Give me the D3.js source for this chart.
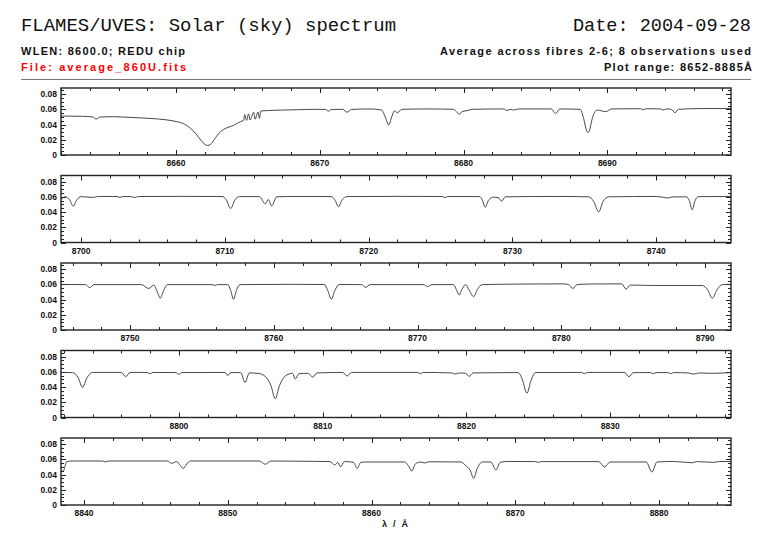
<!DOCTYPE html>
<html><head><meta charset="utf-8">
<script src="https://cdn.jsdelivr.net/npm/d3@7"></script>
<style>body{margin:0;background:#fff}</style></head><body>
<svg id="c" width="782" height="542"></svg>
<script>
// ---- data ----
const titleText = "FLAMES/UVES: Solar (sky) spectrum";
const dateText = "Date: 2004-09-28";
const infoLeft = ["WLEN: 8600.0; REDU chip", "File: average_860U.fits"];
const infoRight = ["Average across fibres 2-6; 8 observations used", "Plot range: 8652-8885Å"];
const xLabel = "λ / Å";
const panelRanges = [[8652.0, 8698.6], [8698.6, 8745.2], [8745.2, 8791.8], [8791.8, 8838.4], [8838.4, 8885.0]];
const yTicks = [0, 0.02, 0.04, 0.06, 0.08];
const yMax = 0.088;

const panel1 = [[8652.0,0.0512],[8653.5,0.0508],[8654.2,0.0500],[8654.45,0.0472],[8654.7,0.0498],[8655.6,0.0503],[8657.0,0.0492],[8658.4,0.0478],[8659.3,0.0462],[8660.0,0.0440],[8660.6,0.0405],[8661.0,0.0350],[8661.4,0.0275],[8661.75,0.0190],[8662.0,0.0140],[8662.2,0.0125],[8662.4,0.0140],[8662.65,0.0200],[8663.0,0.0290],[8663.4,0.0345],[8664.0,0.0390],[8664.5,0.0440],[8664.7,0.0455],[8664.78,0.0530],[8664.9,0.0455],[8665.05,0.0540],[8665.15,0.0460],[8665.4,0.0560],[8665.5,0.0470],[8665.7,0.0565],[8665.8,0.0480],[8665.9,0.0578],[8667.0,0.0588],[8668.5,0.0595],[8669.7,0.0600],[8670.4,0.0598],[8670.6,0.0575],[8670.8,0.0598],[8671.6,0.0600],[8671.9,0.0562],[8672.2,0.0598],[8673.5,0.0605],[8674.3,0.0590],[8674.55,0.0500],[8674.8,0.0395],[8675.0,0.0500],[8675.2,0.0580],[8675.4,0.0555],[8675.7,0.0600],[8677.5,0.0605],[8679.3,0.0600],[8679.5,0.0570],[8679.7,0.0535],[8679.9,0.0570],[8680.3,0.0585],[8680.6,0.0600],[8682.8,0.0605],[8683.0,0.0585],[8683.3,0.0600],[8683.5,0.0590],[8683.8,0.0605],[8686.1,0.0605],[8686.4,0.0545],[8686.7,0.0605],[8688.1,0.0600],[8688.35,0.0480],[8688.55,0.0320],[8688.65,0.0293],[8688.75,0.0320],[8688.95,0.0480],[8689.3,0.0590],[8689.9,0.0570],[8690.3,0.0605],[8692.3,0.0608],[8692.5,0.0595],[8692.7,0.0608],[8693.7,0.0605],[8693.9,0.0590],[8694.1,0.0605],[8694.45,0.0600],[8694.7,0.0556],[8694.95,0.0600],[8696.5,0.0610],[8698.6,0.0610]];
const panel2 = [[8698.6,0.0570],[8698.9,0.0600],[8699.2,0.0560],[8699.45,0.0477],[8699.7,0.0560],[8700.0,0.0602],[8700.8,0.0592],[8701.2,0.0605],[8702.5,0.0605],[8702.7,0.0592],[8702.9,0.0604],[8703.5,0.0603],[8703.7,0.0590],[8704.0,0.0604],[8707.0,0.0606],[8709.8,0.0604],[8710.1,0.0560],[8710.4,0.0447],[8710.7,0.0560],[8711.0,0.0603],[8712.4,0.0603],[8712.8,0.0508],[8713.02,0.0565],[8713.25,0.0480],[8713.6,0.0600],[8715.0,0.0605],[8717.4,0.0603],[8717.65,0.0560],[8717.9,0.0470],[8718.15,0.0560],[8718.5,0.0603],[8722.0,0.0606],[8725.1,0.0604],[8725.3,0.0590],[8725.5,0.0604],[8727.7,0.0603],[8727.9,0.0560],[8728.1,0.0464],[8728.35,0.0560],[8728.7,0.0595],[8729.0,0.0590],[8729.25,0.0543],[8729.5,0.0600],[8733.0,0.0605],[8735.3,0.0600],[8735.65,0.0540],[8736.0,0.0403],[8736.3,0.0540],[8736.7,0.0600],[8740.0,0.0605],[8740.5,0.0592],[8740.8,0.0585],[8741.1,0.0598],[8742.1,0.0600],[8742.3,0.0550],[8742.5,0.0430],[8742.7,0.0550],[8742.95,0.0602],[8745.2,0.0605]];
const panel3 = [[8745.2,0.0598],[8746.9,0.0596],[8747.2,0.0557],[8747.5,0.0596],[8750.8,0.0596],[8751.3,0.0545],[8751.65,0.0590],[8751.9,0.0500],[8752.1,0.0417],[8752.3,0.0500],[8752.6,0.0596],[8755.7,0.0596],[8755.9,0.0585],[8756.1,0.0596],[8756.8,0.0596],[8757.0,0.0520],[8757.2,0.0404],[8757.4,0.0520],[8757.65,0.0596],[8761.0,0.0600],[8763.5,0.0598],[8763.75,0.0520],[8764.0,0.0404],[8764.25,0.0520],[8764.55,0.0598],[8766.1,0.0596],[8766.4,0.0560],[8766.7,0.0596],[8770.4,0.0596],[8770.7,0.0570],[8771.0,0.0596],[8772.5,0.0596],[8772.7,0.0530],[8772.9,0.0460],[8773.1,0.0540],[8773.35,0.0595],[8773.6,0.0520],[8773.9,0.0438],[8774.15,0.0530],[8774.5,0.0596],[8777.0,0.0603],[8780.0,0.0606],[8780.5,0.0598],[8780.8,0.0545],[8781.1,0.0598],[8782.5,0.0605],[8784.2,0.0606],[8784.5,0.0536],[8784.8,0.0590],[8786.5,0.0585],[8789.8,0.0585],[8790.2,0.0520],[8790.5,0.0417],[8790.8,0.0520],[8791.2,0.0596],[8791.8,0.0600]];
const panel4 = [[8791.8,0.0592],[8792.6,0.0590],[8793.0,0.0520],[8793.3,0.0396],[8793.6,0.0520],[8794.0,0.0592],[8796.0,0.0592],[8796.3,0.0536],[8796.6,0.0592],[8797.8,0.0592],[8798.0,0.0575],[8798.2,0.0592],[8799.8,0.0590],[8800.0,0.0566],[8800.2,0.0590],[8803.2,0.0592],[8803.4,0.0553],[8803.6,0.0590],[8804.3,0.0590],[8804.6,0.0460],[8804.9,0.0585],[8805.5,0.0580],[8806.0,0.0540],[8806.4,0.0420],[8806.7,0.0247],[8807.0,0.0420],[8807.4,0.0545],[8807.9,0.0580],[8808.1,0.0506],[8808.35,0.0575],[8809.0,0.0580],[8809.3,0.0530],[8809.6,0.0585],[8811.4,0.0592],[8811.7,0.0545],[8812.0,0.0592],[8816.6,0.0592],[8816.8,0.0575],[8817.0,0.0592],[8819.0,0.0585],[8819.2,0.0570],[8819.5,0.0585],[8819.95,0.0580],[8820.2,0.0540],[8820.45,0.0585],[8823.6,0.0590],[8823.9,0.0490],[8824.2,0.0319],[8824.5,0.0490],[8824.8,0.0590],[8828.0,0.0592],[8828.2,0.0575],[8828.4,0.0592],[8831.0,0.0592],[8831.3,0.0536],[8831.6,0.0590],[8832.8,0.0590],[8833.0,0.0575],[8833.2,0.0590],[8834.0,0.0590],[8834.2,0.0575],[8834.4,0.0590],[8835.4,0.0585],[8835.8,0.0570],[8836.2,0.0585],[8837.0,0.0580],[8838.4,0.0590]];
const panel5 = [[8838.4,0.0460],[8838.55,0.0440],[8838.8,0.0570],[8839.2,0.0578],[8841.3,0.0578],[8841.5,0.0565],[8841.7,0.0578],[8845.8,0.0578],[8846.1,0.0548],[8846.45,0.0570],[8846.65,0.0530],[8846.9,0.0480],[8847.15,0.0540],[8847.4,0.0578],[8852.2,0.0578],[8852.6,0.0535],[8853.0,0.0578],[8855.0,0.0575],[8857.1,0.0570],[8857.45,0.0526],[8857.65,0.0560],[8857.85,0.0500],[8858.1,0.0570],[8858.75,0.0560],[8859.0,0.0480],[8859.25,0.0560],[8859.6,0.0565],[8862.3,0.0565],[8862.55,0.0520],[8862.8,0.0447],[8863.05,0.0540],[8863.4,0.0565],[8863.7,0.0552],[8864.0,0.0568],[8866.2,0.0565],[8866.6,0.0508],[8866.85,0.0460],[8867.1,0.0350],[8867.35,0.0480],[8867.7,0.0565],[8868.3,0.0565],[8868.65,0.0460],[8868.95,0.0560],[8869.5,0.0572],[8871.4,0.0570],[8871.6,0.0560],[8871.8,0.0570],[8875.8,0.0570],[8876.2,0.0500],[8876.6,0.0565],[8879.1,0.0565],[8879.5,0.0433],[8879.85,0.0565],[8881.0,0.0572],[8882.3,0.0555],[8882.6,0.0570],[8883.8,0.0560],[8884.2,0.0572],[8885.0,0.0570]];
const panels = [panel1, panel2, panel3, panel4, panel5];

// ---- layout ----
const svg = d3.select("#c");
const L = 61, R = 731, PH = 67;
const tops = panels.map((d, i) => 88 + i * 87.5);
const fg = "#222";

// header
svg.append("text").attr("x", 21).attr("y", 31).attr("font-family", "Liberation Mono").attr("font-size", 19)
  .attr("fill", "#111").attr("textLength", 375).attr("lengthAdjust", "spacingAndGlyphs").text(titleText);
svg.append("text").attr("x", 573).attr("y", 31).attr("font-family", "Liberation Mono").attr("font-size", 19)
  .attr("fill", "#111").attr("textLength", 178).attr("lengthAdjust", "spacingAndGlyphs").text(dateText);
const sub = {"font-family": "Liberation Sans", "font-size": 11, "font-weight": "bold"};
function subText(t, x, y, len, col) {
  const e = svg.append("text").attr("x", x).attr("y", y).attr("fill", col)
    .attr("textLength", len).attr("lengthAdjust", "spacing").text(t);
  for (const k in sub) e.attr(k, sub[k]);
}
subText(infoLeft[0], 21, 55, 164, "#111");
subText(infoLeft[1], 21, 71, 165, "#ff0000");
subText(infoRight[0], 440, 55, 311, "#111");
subText(infoRight[1], 604, 71, 148, "#111");
svg.append("line").attr("x1", 21).attr("x2", 751).attr("y1", 79.5).attr("y2", 79.5)
  .attr("stroke", "#777").attr("stroke-width", 1);

panels.forEach((data, i) => {
  const top = tops[i], bot = top + PH;
  const x = d3.scaleLinear().domain(panelRanges[i]).range([L, R]);
  const y = d3.scaleLinear().domain([0, yMax]).range([bot, top]);
  const g = svg.append("g");

  const [lo, hi] = panelRanges[i];
  const majX = d3.range(Math.ceil(lo / 10) * 10, hi + 1e-9, 10);
  const minX = d3.range(Math.ceil(lo / 2) * 2, hi + 1e-9, 2).filter(v => v % 10 !== 0);
  const majY = yTicks;
  const minY = d3.range(0, yMax + 1e-9, 0.005).filter(v => Math.abs(v / 0.02 - Math.round(v / 0.02)) > 1e-6);

  const tk = g.append("g").attr("stroke", fg).attr("stroke-width", 1);
  const xt = (vals, len) => vals.forEach(v => {
    const px = Math.round(x(v)) + 0.5;
    tk.append("line").attr("x1", px).attr("x2", px).attr("y1", bot).attr("y2", bot - len);
    tk.append("line").attr("x1", px).attr("x2", px).attr("y1", top).attr("y2", top + len);
  });
  xt(majX, 5); xt(minX, 3);
  const yt = (vals, len) => vals.forEach(v => {
    const py = Math.round(y(v)) + 0.5;
    tk.append("line").attr("x1", L).attr("x2", L + len).attr("y1", py).attr("y2", py);
    tk.append("line").attr("x1", R).attr("x2", R - len).attr("y1", py).attr("y2", py);
  });
  yt(majY, 5); yt(minY, 3);

  // labels
  g.selectAll(".xl").data(majX).enter().append("text")
    .attr("x", d => x(d)).attr("y", bot + 11).attr("text-anchor", "middle")
    .attr("font-family", "Liberation Sans").attr("font-weight", "bold").attr("font-size", 8.5)
    .attr("fill", "#111").text(d => d3.format("d")(d));
  g.selectAll(".yl").data(majY).enter().append("text")
    .attr("x", L - 4).attr("y", d => y(d) + 3).attr("text-anchor", "end")
    .attr("font-family", "Liberation Sans").attr("font-weight", "bold").attr("font-size", 8.5)
    .attr("fill", "#111").text(d => d === 0 ? "0" : d3.format(".2f")(d));

  // spectrum
  const line = d3.line().x(d => x(d[0])).y(d => y(d[1])).curve(d3.curveMonotoneX);
  g.append("path").datum(data).attr("d", line).attr("fill", "none")
    .attr("stroke", "#333").attr("stroke-width", 0.9);

  // frame
  g.append("rect").attr("x", L).attr("y", top).attr("width", R - L).attr("height", PH)
    .attr("fill", "none").attr("stroke", fg).attr("stroke-width", 1.4);
});

svg.append("text").attr("x", 382).attr("y", 527)
  .attr("font-family", "Liberation Sans").attr("font-weight", "bold").attr("font-size", 9)
  .attr("fill", "#111").attr("textLength", 26).attr("lengthAdjust", "spacing").text(xLabel);
</script>
</body></html>
